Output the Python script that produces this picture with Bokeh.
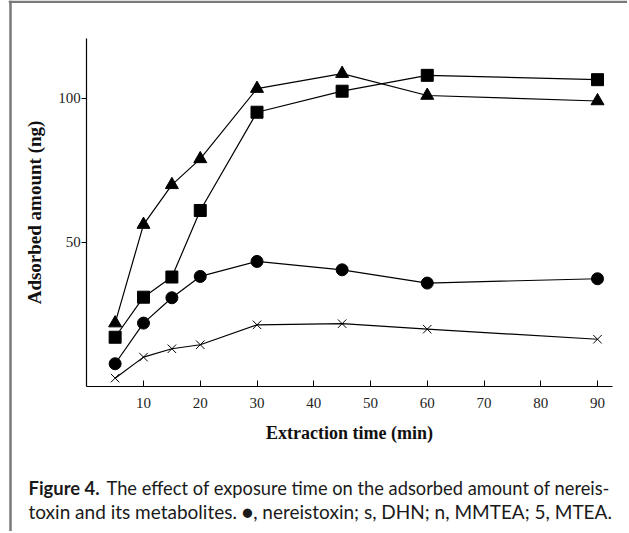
from bokeh.plotting import figure
from bokeh.models import Range1d, FixedTicker, Label, LinearAxis, Span
from bokeh.embed import file_html
from bokeh.resources import INLINE

# ---- data ----
time_min = [5, 10, 15, 20, 30, 45, 60, 90]
nereistoxin = [7.9, 22.0, 30.8, 38.2, 43.4, 40.5, 35.9, 37.4]      # circles
dhn = [22.0, 56.2, 70.0, 79.0, 103.4, 108.6, 101.0, 99.1]          # triangles
mmtea = [17.1, 31.0, 38.0, 61.1, 95.2, 102.5, 108.0, 106.5]        # squares
mtea = [2.9, 10.2, 13.1, 14.5, 21.4, 21.8, 19.9, 16.4]             # crosses
x_ticks = [10, 20, 30, 40, 50, 60, 70, 80, 90]
y_ticks = [50, 100]
x_label = "Extraction time (min)"
y_label = "Adsorbed amount (ng)"
caption_bold = "Figure 4."
caption_line1 = "The effect of exposure time on the adsorbed amount of nereis-"
caption_line2 = "toxin and its metabolites. \u25cf, nereistoxin; s, DHN; n, MMTEA; 5, MTEA."

SERIF = "Liberation Serif"
SANS = "Lato"

# ---- layout constants (pixels) ----
W, H = 619, 531          # canvas size; canvas sits at page x=8, y=0
LEFT_PAGE = 8
X0_PAGE, PX_X = 86.25, 5.675   # page x of time 0, px per minute
Y0_PAGE, PX_Y = 386.0, 2.881   # page y of amount 0, px per ng
X_END, Y_END = 92.7, 120.8     # visible axis extents

x_range = Range1d((LEFT_PAGE - X0_PAGE) / PX_X, (LEFT_PAGE + W - X0_PAGE) / PX_X)
y_range = Range1d((Y0_PAGE - H) / PX_Y, Y0_PAGE / PX_Y)

p = figure(width=W, height=H, output_backend="svg", toolbar_location=None,
           x_range=x_range, y_range=y_range,
           x_axis_location=None, y_axis_location=None,
           min_border=0, min_border_left=0, min_border_right=0,
           min_border_top=0, min_border_bottom=0)
p.styles = {"margin-left": "8px"}
p.outline_line_color = None
p.grid.visible = False
p.background_fill_color = "white"
p.border_fill_color = "white"

# frame lines of the figure box (top and left)
p.add_layout(Span(location=(10 - X0_PAGE) / PX_X, dimension="height",
                  line_color="#7a7a7a", line_width=2.5))
p.add_layout(Span(location=(Y0_PAGE - 1.2) / PX_Y, dimension="width",
                  line_color="#7a7a7a", line_width=2.5))

# axes
xa = LinearAxis(fixed_location=0, bounds=(0, X_END))
xa.ticker = FixedTicker(ticks=x_ticks)
xa.major_tick_in = 6
xa.major_tick_out = 0
xa.minor_tick_line_color = None
xa.axis_line_width = 1.2
xa.major_label_text_font = SERIF
xa.major_label_text_font_size = "15px"
xa.major_label_text_color = "#222222"
xa.major_label_standoff = 11
xa.axis_label = x_label
xa.axis_label_text_font = SERIF
xa.axis_label_text_font_style = "bold"
xa.axis_label_text_font_size = "18px"
xa.axis_label_text_color = "#111111"
xa.axis_label_standoff = 12
p.add_layout(xa, "below")

ya = LinearAxis(fixed_location=0, bounds=(0, Y_END))
ya.ticker = FixedTicker(ticks=y_ticks)
ya.major_tick_in = 0
ya.major_tick_out = 5
ya.minor_tick_line_color = None
ya.axis_line_width = 1.2
ya.major_label_text_font = SERIF
ya.major_label_text_font_size = "15px"
ya.major_label_text_color = "#222222"
ya.major_label_standoff = 1
ya.axis_label = y_label
ya.axis_label_text_font = SERIF
ya.axis_label_text_font_style = "bold"
ya.axis_label_text_font_size = "19px"
ya.axis_label_text_color = "#111111"
ya.axis_label_standoff = 10
p.add_layout(ya, "left")

# series
lw = 1.2
p.line(time_min, dhn, line_color="black", line_width=lw)
p.scatter(time_min, dhn, marker="triangle", size=13, color="black")

p.line(time_min, mmtea, line_color="black", line_width=lw)
p.scatter(time_min, mmtea, marker="square", size=12, color="black")

p.line(time_min, nereistoxin, line_color="black", line_width=lw)
p.scatter(time_min, nereistoxin, marker="circle", size=12, color="black")

p.line(time_min, mtea, line_color="black", line_width=lw)
p.scatter(time_min, mtea, marker="x", size=12, line_color="black", line_width=1.0)

# caption (screen units from bottom-left of canvas)
cap = dict(x_units="screen", y_units="screen", text_font=SANS,
           text_color="#1a1a1a", text_baseline="alphabetic", text_align="left")
p.add_layout(Label(x=28 - LEFT_PAGE, y=H - 487, text=caption_bold,
                   text_font_style="bold", text_font_size="18.4px", **cap))
p.add_layout(Label(x=106 - LEFT_PAGE, y=H - 487, text=caption_line1,
                   text_font_size="18.3px", **cap))
p.add_layout(Label(x=28 - LEFT_PAGE, y=H - 511, text=caption_line2,
                   text_font_size="19px", **cap))

open("out.html", "w").write(file_html(p, INLINE))
